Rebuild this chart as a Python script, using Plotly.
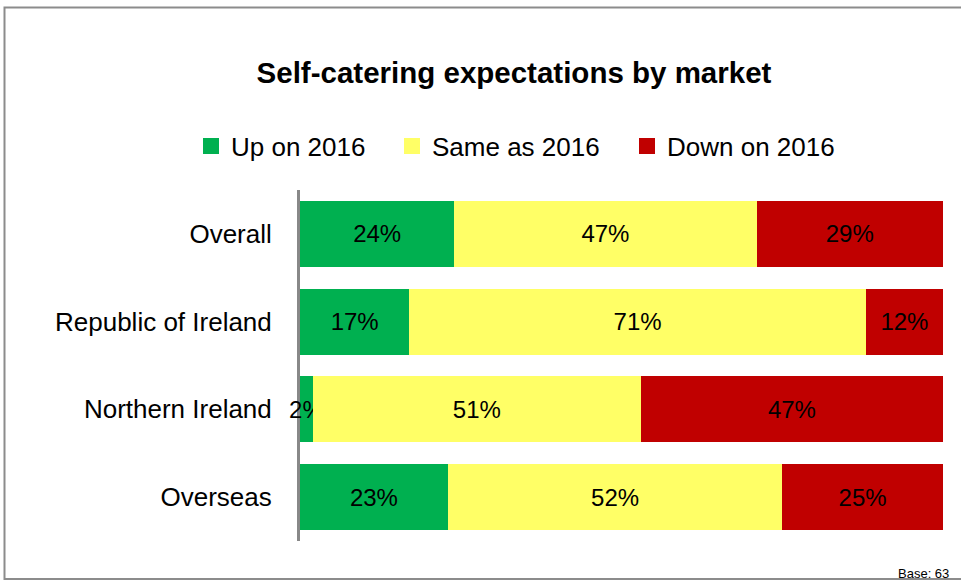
import plotly.graph_objects as go

markets = ["Overall", "Republic of Ireland", "Northern Ireland", "Overseas"]
up = [24, 17, 2, 23]
same = [47, 71, 51, 52]
down = [29, 12, 47, 25]
series_names = ["Up on 2016", "Same as 2016", "Down on 2016"]
colors = ["#00B050", "#FFFF66", "#C00000"]

W, H = 961, 581
L, R, T, B = 300, 18, 190, 40
pw, ph = W - L - R, H - T - B
FONT = "Liberation Sans, Arial"
legend_left = [191, 392, 627]   # pixel x of each legend entry
legend_keys = ["legend", "legend2", "legend3"]

fig = go.Figure()
for name, vals, col in zip(series_names, [up, same, down], colors):
    fig.add_trace(go.Bar(
        y=markets, x=vals, name=name, orientation="h", showlegend=False,
        marker=dict(color=col, line=dict(width=0)),
        text=[f"{v}%" for v in vals], textposition="inside", textangle=0,
        insidetextanchor="middle", constraintext="none", cliponaxis=False,
        textfont=dict(family=FONT, size=24, color="black"),
        hoverinfo="skip",
    ))
# legend entries with square swatches, one legend box each
for name, col, key in zip(series_names, colors, legend_keys):
    fig.add_trace(go.Scatter(
        x=[None], y=[None], mode="markers", name=name, legend=key,
        marker=dict(symbol="square", size=17, color=col),
        hoverinfo="skip",
    ))

def px(x):
    return (x - L) / pw

def py(y):
    return (H - B - y) / ph

legend_style = dict(orientation="h", xref="container", xanchor="left",
                    yref="container", yanchor="middle", y=1 - 146 / H,
                    font=dict(family=FONT, size=26), itemwidth=30,
                    bgcolor="rgba(0,0,0,0)", borderwidth=0)
legends = {key: dict(legend_style, x=lx / W) for key, lx in zip(legend_keys, legend_left)}

fig.update_layout(
    width=W, height=H,
    margin=dict(l=L, r=R, t=T, b=B),
    barmode="stack", bargap=0.25,
    paper_bgcolor="white", plot_bgcolor="white",
    font=dict(family=FONT, size=26, color="black"),
    uniformtext=dict(minsize=24, mode="show"),
    title=dict(text="<b>Self-catering expectations by market</b>",
               x=514 / W, xref="container", xanchor="center",
               y=1 - 73 / H, yref="container", yanchor="middle",
               font=dict(family=FONT, size=29.5, color="black")),
    xaxis=dict(range=[0, 100], showticklabels=False, showgrid=False,
               zeroline=False, showline=False, fixedrange=True),
    yaxis=dict(autorange="reversed", showline=True, linecolor="#888888",
               linewidth=3, ticks="", showgrid=False, ticklabelstandoff=20,
               tickfont=dict(family=FONT, size=26), fixedrange=True,
               layer="below traces"),
    shapes=[dict(type="rect", xref="paper", yref="paper",
                 x0=px(4.5), x1=px(1000), y0=py(579), y1=py(7.5),
                 line=dict(color="#8c8c8c", width=2), layer="below")],
    annotations=[dict(text="Base: 63", xref="paper", yref="paper",
                      x=px(951), y=py(573), xanchor="right", yanchor="middle",
                      showarrow=False, font=dict(family=FONT, size=13, color="black"))],
    **legends,
)

fig.write_html("out.html", config={"displayModeBar": False},
               post_script="document.body.style.margin='0';")
